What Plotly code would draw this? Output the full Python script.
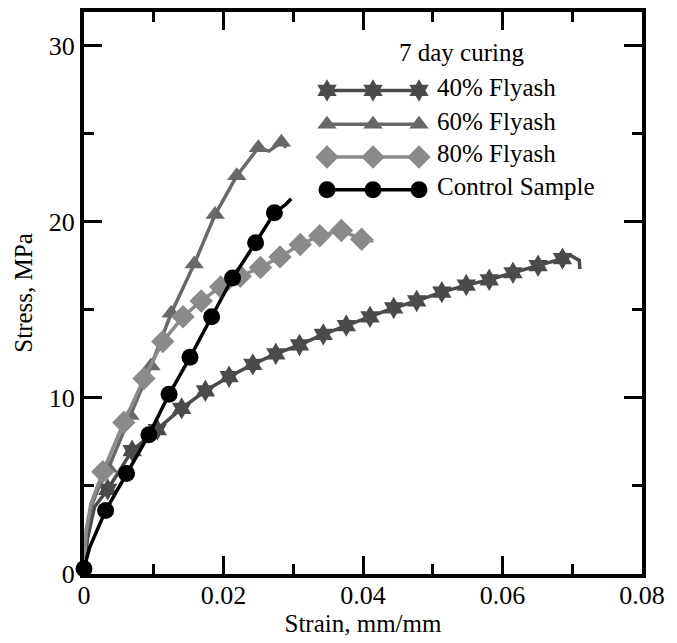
import plotly.graph_objects as go

# ---------------- data ----------------
fa40_strain = [0, 0.0005, 0.0015, 0.0034, 0.0069, 0.0105, 0.0140, 0.0174, 0.0208, 0.0242,
               0.0275, 0.0309, 0.0343, 0.0376, 0.0410, 0.0444, 0.0477, 0.0513, 0.0548,
               0.0581, 0.0615, 0.0651, 0.0686, 0.0697, 0.0710, 0.0711]
fa40_stress = [0.2, 2.0, 3.8, 4.8, 7.0, 8.2, 9.4, 10.4, 11.2, 11.9,
               12.5, 13.0, 13.6, 14.1, 14.6, 15.1, 15.5, 16.0, 16.4,
               16.7, 17.1, 17.5, 17.9, 18.1, 17.8, 17.3]
fa40_marked = [0, 0, 0, 1, 1, 1, 1, 1, 1, 1, 1, 1, 1, 1, 1, 1, 1, 1, 1, 1, 1, 1, 1, 0, 0, 0]

fa60_strain = [0, 0.0003, 0.0010, 0.0020, 0.0035, 0.0066, 0.0096, 0.0125, 0.0158, 0.0188,
               0.0219, 0.0250, 0.0265, 0.0283, 0.0290]
fa60_stress = [0.3, 2.2, 3.8, 4.8, 6.0, 9.0, 11.8, 14.8, 17.6, 20.4,
               22.6, 24.2, 24.0, 24.5, 24.2]
fa60_marked = [0, 0, 0, 0, 1, 1, 1, 1, 1, 1, 1, 1, 0, 1, 0]

fa80_strain = [0, 0.0003, 0.0010, 0.0027, 0.0057, 0.0086, 0.0113, 0.0142, 0.0168, 0.0196,
               0.0224, 0.0253, 0.0281, 0.0310, 0.0338, 0.0369, 0.0398, 0.0415]
fa80_stress = [0.3, 2.5, 4.0, 5.8, 8.6, 11.1, 13.2, 14.6, 15.5, 16.3,
               16.9, 17.4, 18.0, 18.7, 19.2, 19.5, 19.0, 18.9]
fa80_marked = [0, 0, 0, 1, 1, 1, 1, 1, 1, 1, 1, 1, 1, 1, 1, 1, 1, 0]

ctrl_strain = [0, 0.0008, 0.0031, 0.0061, 0.0093, 0.0122, 0.0152, 0.0183, 0.0213,
               0.0246, 0.0273, 0.0290, 0.0297]
ctrl_stress = [0.3, 1.5, 3.6, 5.7, 7.9, 10.2, 12.3, 14.6, 16.8, 18.8, 20.5, 21.0, 21.3]
ctrl_marked = [1, 0, 1, 1, 1, 1, 1, 1, 1, 1, 1, 0, 0]

series_names = ["40% Flyash", "60% Flyash", "80% Flyash", "Control Sample"]
legend_title = "7 day curing"
x_title = "Strain, mm/mm"
y_title = "Stress, MPa"

# ---------------- styles ----------------
FONT = "Liberation Serif"
styles = [
    dict(color="#4b4b4b", symbol="hexagram", size=17),
    dict(color="#686868", symbol="triangle-up", size=17),
    dict(color="#8a8a8a", symbol="diamond", size=18),
    dict(color="#000000", symbol="circle", size=17),
]
data = [
    (fa40_strain, fa40_stress, fa40_marked),
    (fa60_strain, fa60_stress, fa60_marked),
    (fa80_strain, fa80_stress, fa80_marked),
    (ctrl_strain, ctrl_stress, ctrl_marked),
]

# plot area in pixels
W, H = 677, 643
L, R, T, B = 84, 642, 8, 574

fig = go.Figure()
for (xs, ys, mk), st, name in zip(data, styles, series_names):
    fig.add_trace(go.Scatter(
        x=xs, y=ys, mode="lines+markers", name=name, showlegend=False,
        cliponaxis=False,
        line=dict(color=st["color"], width=3.5),
        marker=dict(symbol=st["symbol"], color=st["color"], opacity=1,
                    size=[st["size"] if m else 0 for m in mk],
                    line=dict(width=0)),
    ))

# ---------------- custom legend (3 markers per sample line) ----------------
def px2x(px):
    return (px - L) / (R - L)

def py2y(py):
    return (B - py) / (B - T)

leg_rows_py = [87, 121, 154, 187]
leg_marker_px = [327, 373, 419]
leg_text_px = 435
for st, name, ry in zip(styles, series_names, leg_rows_py):
    fig.add_trace(go.Scatter(
        x=[px2x(p) for p in leg_marker_px], y=[py2y(ry)] * 3,
        xaxis="x2", yaxis="y2", mode="lines+markers", showlegend=False,
        hoverinfo="skip", cliponaxis=False,
        line=dict(color=st["color"], width=3.5),
        marker=dict(symbol=st["symbol"], color=st["color"], size=st["size"],
                    opacity=1, line=dict(width=0)),
    ))
    fig.add_annotation(x=px2x(leg_text_px), y=py2y(ry - 3), xref="x2", yref="y2",
                       text=name, showarrow=False, xanchor="left", yanchor="middle",
                       font=dict(family=FONT, size=25, color="#000000"))
fig.add_annotation(x=px2x(461), y=py2y(49), xref="x2", yref="y2",
                   text=legend_title, showarrow=False, xanchor="center", yanchor="middle",
                   font=dict(family=FONT, size=25, color="#000000"))

axis_common = dict(
    showline=True, linecolor="black", linewidth=4, mirror="allticks",
    ticks="inside", ticklen=18, tickwidth=3, tickcolor="black",
    showgrid=False, zeroline=False, layer="below traces",
    tickfont=dict(family=FONT, size=26, color="#000000"),
)

fig.update_layout(
    width=W, height=H,
    margin=dict(l=L, r=W - R, t=T, b=H - B),
    paper_bgcolor="white", plot_bgcolor="white",
    showlegend=False,
    font=dict(family=FONT, size=25, color="#000000"),
    xaxis=dict(range=[0, 0.08], dtick=0.02, tick0=0, ticklabelstandoff=-5,
               minor=dict(dtick=0.01, ticks="inside", ticklen=10, tickwidth=3, tickcolor="black"),
               title=dict(text=x_title, font=dict(family=FONT, size=25, color="#000000"), standoff=0),
               **axis_common),
    yaxis=dict(range=[0, 31.9], dtick=10, tick0=0,
               minor=dict(dtick=5, ticks="inside", ticklen=10, tickwidth=3, tickcolor="black"),
               title=dict(text=y_title, font=dict(family=FONT, size=25, color="#000000"), standoff=10),
               **axis_common),
    xaxis2=dict(range=[0, 1], overlaying="x", visible=False, fixedrange=True),
    yaxis2=dict(range=[0, 1], overlaying="y", visible=False, fixedrange=True),
)

fig.write_html("out.html")
